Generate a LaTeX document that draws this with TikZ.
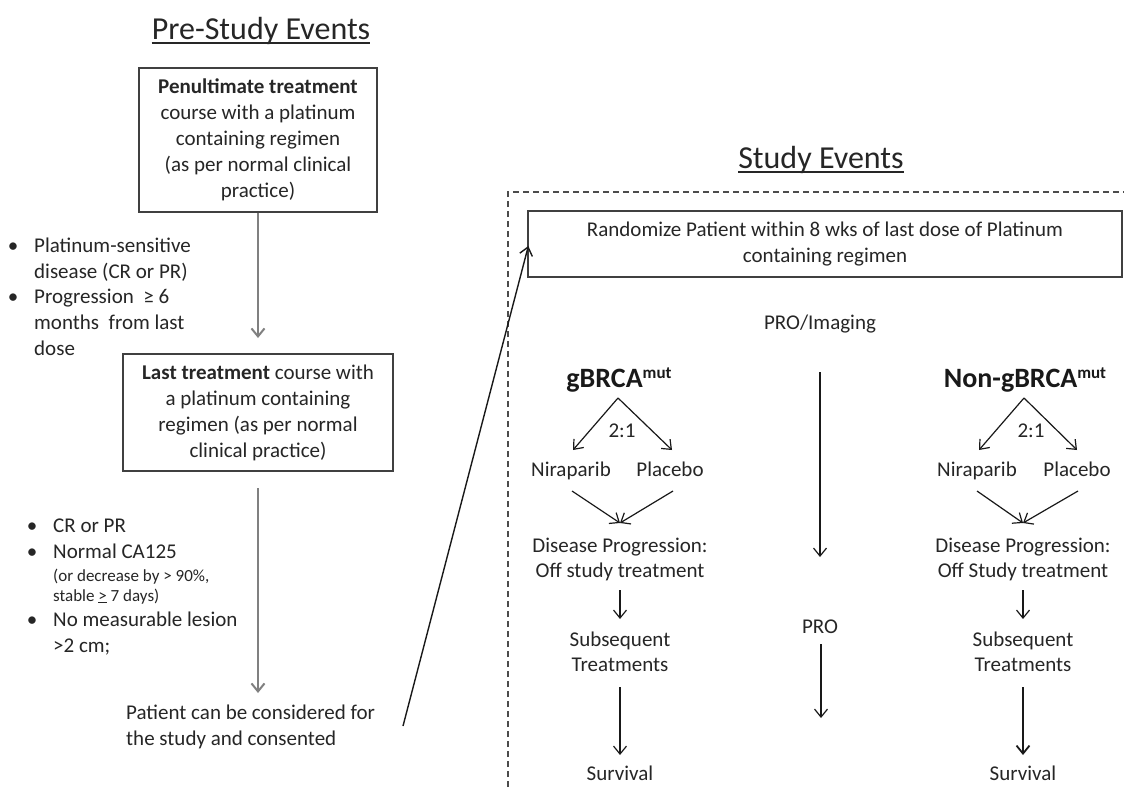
\documentclass[tikz,border=0pt]{standalone}
\usepackage{fontspec}
\setmainfont{Carlito}
\usetikzlibrary{arrows.meta,calc}
\newcommand\supmut{\raisebox{9pt}{\fontsize{17}{17}\selectfont mut}}
\begin{document}
\begin{tikzpicture}[x=1pt,y=-1pt,
  txt/.style={inner sep=0pt,text=black!85,font=\fontsize{21}{26}\selectfont,align=center},
  ltxt/.style={txt,align=left},
  tight/.style={txt,font=\fontsize{21}{25}\selectfont},
  small/.style={inner sep=0pt,text=black!85,font=\fontsize{17}{20}\selectfont,align=left},
  boxed/.style={txt,draw=black!75,line width=1.3pt},
  ttl/.style={inner sep=0pt,text=black!85,font=\fontsize{32}{38}\selectfont},
  grp/.style={inner sep=0pt,text=black!90,font=\bfseries\fontsize{28}{32}\selectfont},
  garr/.style={draw=black!50,line width=2pt,-{Straight Barb[length=8pt,width=13pt]}},
  arr/.style={draw=black!90,line width=1.2pt,-{Straight Barb[length=8pt,width=13pt]}},
  uline/.style={draw=black!85,line width=1.3pt},
]
\useasboundingbox (0,0) rectangle (1124,787);
\fill[white] (0,0) rectangle (1124,787);

% ---------- titles
\node[ttl,anchor=base] (t1) at (261,39) {Pre-Study Events};
\draw[uline] ($(t1.base west)+(0,4)$) -- ($(t1.base east)+(0,4)$);
\node[ttl,anchor=base] (t2) at (821,168) {Study Events};
\draw[uline] ($(t2.base west)+(0,4)$) -- ($(t2.base east)+(0,4)$);

% ---------- pre-study column
\node[boxed,minimum width=238pt,minimum height=144pt] (b1) at (258,140)
  {\textbf{Penultimate treatment}\\course with a platinum\\containing regimen\\(as per normal clinical\\practice)};
\node[boxed,minimum width=270pt,minimum height=117pt] (b2) at (258,412.5)
  {\textbf{Last treatment} course with\\a platinum containing\\regimen (as per normal\\clinical practice)};
\node[ltxt,anchor=base west] (pat) at (126,745) {Patient can be considered for\\the study and consented};

\coordinate (a1e) at (258,338);
\coordinate (a2s) at (258,488);
\coordinate (a2e) at (258,693);
\draw[garr] (b1.south) -- (a1e);
\draw[garr] (a2s) -- (a2e);

% bullets 1
\node[txt,anchor=base] (bu1) at (13,252) {•};
\node[ltxt,anchor=base west] (l1) at (34,278) {Platinum-sensitive\\disease (CR or PR)};
\node[txt,anchor=base] (bu2) at (13,303) {•};
\node[ltxt,anchor=base west] (l2) at (34,355) {Progression\ \ ≥ 6\\months\ \ from last\\dose};

% bullets 2
\node[txt,anchor=base] (bu3) at (32,532) {•};
\node[ltxt,anchor=base west] (l3) at (53,532) {CR or PR};
\node[txt,anchor=base] (bu4) at (32,558) {•};
\node[ltxt,anchor=base west] (l4) at (53,558) {Normal CA125};
\node[small,anchor=base west] (l4s) at (53,601) {(or decrease by > 90\%,\\stable \underline{>} 7 days)};
\node[txt,anchor=base] (bu5) at (32,626) {•};
\node[ltxt,anchor=base west] (l5) at (53,652) {No measurable lesion\\>2 cm;};

% ---------- study events frame
\draw[black!70,line width=1.2pt,dash pattern=on 6pt off 4pt] (508,787) -- (508,192) -- (1124,192);
\node[boxed,minimum width=594pt,minimum height=66pt] (rb) at (825,244)
  {Randomize Patient within 8 wks of last dose of Platinum\\containing regimen};
\coordinate (d0) at (403,726);
\draw[arr,line width=1.4pt] (d0) -- ($(rb.west)+(1,2)$);

% ---------- middle column
\node[txt,anchor=base] (pi) at (820,329) {PRO/Imaging};
\node[txt,anchor=base] (pro) at (820,633) {PRO};
\coordinate (m1s) at (820,372);
\coordinate (m1e) at (820,557);
\coordinate (m2s) at (821,644);
\coordinate (m2e) at (821,718);
\draw[arr] (m1s) -- (m1e);
\draw[arr] (m2s) -- (m2e);

% ---------- gBRCA column
\node[grp,anchor=base] (g1) at (619,387) {gBRCA\supmut};
\coordinate (ga) at (618,398);
\coordinate (gl) at (573,450);
\coordinate (gr) at (672,450);
\draw[arr] (ga) -- (gl);
\draw[arr] (ga) -- (gr);
\node[txt,anchor=base] (gr1) at (622,437) {2:1};
\node[txt,anchor=base] (gn) at (571,476) {Niraparib};
\node[txt,anchor=base] (gp) at (670,476) {Placebo};
\coordinate (gns) at (572,491);
\coordinate (gps) at (673,491);
\coordinate (gm) at (620,523);
\draw[arr] (gns) -- (gm);
\draw[arr] (gps) -- (gm);
\node[tight,anchor=base] (gd) at (620,577) {Disease Progression:\\Off study treatment};
\draw[arr] (620,590) coordinate (g3s) -- (620,619) coordinate (g3e);
\node[tight,anchor=base] (gs) at (620,671) {Subsequent\\Treatments};
\draw[arr] (620,687) coordinate (g4s) -- (620,755) coordinate (g4e);
\node[txt,anchor=base] (gsv) at (620,780) {Survival};

% ---------- non-gBRCA column
\node[grp,anchor=base] (n1) at (1025,387) {Non-gBRCA\supmut};
\coordinate (na) at (1024,398);
\coordinate (nl) at (979,450);
\coordinate (nr) at (1077,450);
\draw[arr] (na) -- (nl);
\draw[arr] (na) -- (nr);
\node[txt,anchor=base] (nr1) at (1031,437) {2:1};
\node[txt,anchor=base] (nn) at (977,476) {Niraparib};
\node[txt,anchor=base] (np) at (1077,476) {Placebo};
\coordinate (nns) at (977,491);
\coordinate (nps) at (1078,491);
\coordinate (nm) at (1023,523);
\draw[arr] (nns) -- (nm);
\draw[arr] (nps) -- (nm);
\node[tight,anchor=base] (nd) at (1023,577) {Disease Progression:\\Off Study treatment};
\draw[arr] (1023,590) coordinate (n3s) -- (1023,619) coordinate (n3e);
\node[tight,anchor=base] (ns) at (1023,671) {Subsequent\\Treatments};
\draw[arr,line width=1.8pt] (1023,687) coordinate (n4s) -- (1023,755) coordinate (n4e);
\node[txt,anchor=base] (nsv) at (1023,780) {Survival};
\end{tikzpicture}
\end{document}
